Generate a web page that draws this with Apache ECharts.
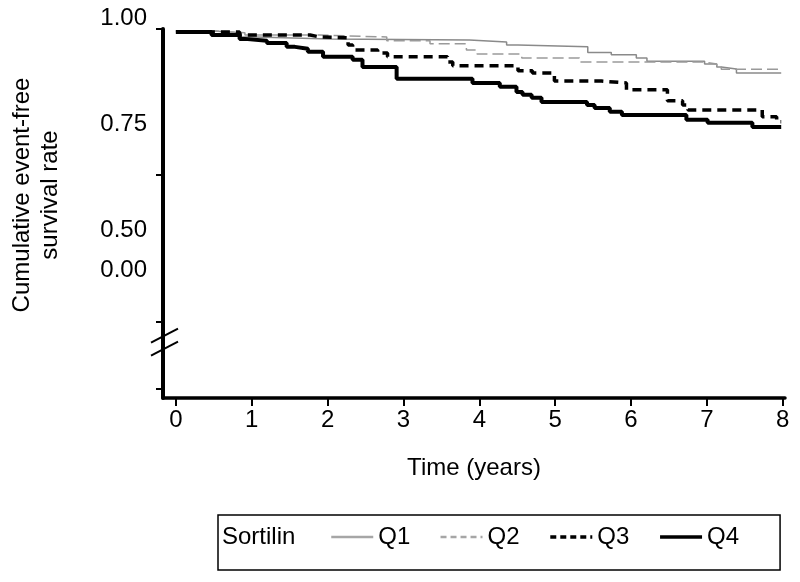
<!DOCTYPE html>
<html>
<head>
<meta charset="utf-8">
<script src="https://cdn.jsdelivr.net/npm/echarts@6/dist/echarts.min.js"></script>
<style>html,body{margin:0;padding:0;background:#fff}#c{width:800px;height:582px}</style>
</head>
<body>
<div id="c"></div>
<script>
// ---- data ----
const seriesNames = ['Q1', 'Q2', 'Q3', 'Q4'];
const q1Time = [0, 0.50, 0.84, 1.05, 2.03, 3.87, 4.36, 4.51, 5.43, 5.74, 6.07, 6.21, 6.97, 7.13, 7.19, 7.39, 7.98];
const q1Surv = [1.0, 0.995, 0.984, 0.979, 0.976, 0.971, 0.963, 0.958, 0.943, 0.937, 0.929, 0.920, 0.913, 0.905, 0.900, 0.889, 0.889];
const q2Time = [0, 0.50, 0.91, 1.90, 2.78, 3.35, 3.83, 3.97, 4.56, 5.32, 6.97, 7.13, 7.19, 7.98];
const q2Surv = [1.0, 0.995, 0.989, 0.984, 0.974, 0.966, 0.950, 0.939, 0.929, 0.918, 0.913, 0.905, 0.899, 0.899];
const q3Time = [0, 0.84, 1.77, 1.90, 2.27, 2.33, 2.66, 2.79, 3.58, 3.65, 4.51, 4.70, 4.99, 5.61, 5.94, 6.48, 6.68, 6.75, 7.73, 7.92, 7.98];
const q3Surv = [0.997, 0.989, 0.984, 0.982, 0.963, 0.950, 0.942, 0.932, 0.918, 0.908, 0.895, 0.889, 0.868, 0.863, 0.845, 0.816, 0.805, 0.792, 0.774, 0.761, 0.761];
const q4Time = [0, 0.47, 0.84, 0.91, 1.20, 1.46, 1.57, 1.74, 1.94, 2.33, 2.46, 2.91, 3.91, 4.27, 4.49, 4.57, 4.69, 4.82, 5.42, 5.52, 5.72, 5.88, 6.73, 7.01, 7.60, 7.98];
const q4Surv = [0.997, 0.989, 0.979, 0.974, 0.968, 0.958, 0.953, 0.945, 0.932, 0.924, 0.905, 0.874, 0.863, 0.853, 0.839, 0.832, 0.824, 0.813, 0.805, 0.797, 0.787, 0.779, 0.766, 0.758, 0.747, 0.747];

const xTickValues = [0, 1, 2, 3, 4, 5, 6, 7, 8];
const yTickValues = [1.005, 0.621, 0.234, 0.058];
const yLabelValues = [1.005, 0.755, 0.476, 0.371];
const yLabelTexts = ['1.00', '0.75', '0.50', '0.00'];
const yBreakValue = 0.18;
const xTitle = 'Time (years)';
const yTitle = 'Cumulative event-free\nsurvival rate';
const legendTitle = 'Sortilin';

// ---- chart ----
const FONT = '"Liberation Sans", Arial, sans-serif';
const zip = (t, s) => t.map((v, i) => [v, s[i]]);
const chart = echarts.init(document.getElementById('c'), null, {renderer: 'canvas'});

const styles = [
  {color: '#8a8a8a', width: 1.5, type: 'solid', legendColor: '#a6a6a6', legendWidth: 2.5, legendType: 'solid'},
  {color: '#9a9a9a', width: 1.5, type: [11, 5], legendColor: '#a6a6a6', legendWidth: 2.5, legendType: [6, 4]},
  {color: '#000000', width: 3.5, type: [9, 6], legendColor: '#000000', legendWidth: 3.5, legendType: [6, 4]},
  {color: '#000000', width: 4, type: 'solid', legendColor: '#000000', legendWidth: 3.5, legendType: 'solid'}
];
const dataSets = [zip(q1Time, q1Surv), zip(q2Time, q2Surv), zip(q3Time, q3Surv), zip(q4Time, q4Surv)];

chart.setOption({
  animation: false,
  backgroundColor: '#ffffff',
  textStyle: {fontFamily: FONT},
  grid: {left: 163, right: 15, top: 29, bottom: 184, containLabel: false},
  xAxis: {
    type: 'value', min: -0.17, max: 8.03,
    name: xTitle, nameLocation: 'middle', nameGap: 58,
    nameTextStyle: {fontSize: 24, color: '#000', fontFamily: FONT},
    axisLine: {show: true, onZero: false, lineStyle: {color: '#000', width: 3.5}},
    axisTick: {show: true, customValues: xTickValues, length: 8, lineStyle: {color: '#000', width: 2}},
    axisLabel: {customValues: xTickValues, fontSize: 24, color: '#000', margin: 10, fontFamily: FONT},
    splitLine: {show: false}
  },
  yAxis: {
    type: 'value', min: 0.034, max: 1.005,
    axisLine: {show: true, onZero: false, lineStyle: {color: '#000', width: 4}},
    axisTick: {show: true, customValues: yTickValues, length: 7, lineStyle: {color: '#000', width: 2}},
    axisLabel: {
      customValues: yLabelValues, fontSize: 24, color: '#000', margin: 16, fontFamily: FONT,
      formatter: function (v) {
        let idx = 0, best = 1e9;
        yLabelValues.forEach((lv, i) => { const d = Math.abs(lv - v); if (d < best) { best = d; idx = i; } });
        return idx === 0 ? '{top|' + yLabelTexts[idx] + '}' : yLabelTexts[idx];
      },
      rich: {top: {fontSize: 24, color: '#000', fontFamily: FONT, padding: [0, 0, 22, 0]}}
    },
    splitLine: {show: false}
  },
  legend: {
    left: 218, top: 515,
    data: seriesNames.map((n, i) => ({
      name: n,
      itemStyle: {color: 'rgba(0,0,0,0)', borderWidth: 0, opacity: 0},
      lineStyle: {color: styles[i].legendColor, width: styles[i].legendWidth, type: styles[i].legendType}
    })),
    itemWidth: 42, itemHeight: 14, itemGap: 29,
    padding: [10, 41, 21, 112],
    borderColor: '#000', borderWidth: 1.5, borderRadius: 0,
    textStyle: {fontSize: 24, color: '#000', fontFamily: FONT}
  },
  series: seriesNames.map((n, i) => ({
    name: n, type: 'line', step: 'end', symbol: 'none', showSymbol: false,
    data: dataSets[i], z: 2 + i,
    color: styles[i].color,
    lineStyle: {color: styles[i].color, width: styles[i].width, type: styles[i].type, cap: 'butt'}
  }))
});

// axis break and titles (decoration)
const ax = chart.convertToPixel({xAxisIndex: 0}, -0.17);
const by = chart.convertToPixel({yAxisIndex: 0}, yBreakValue);
chart.setOption({
  graphic: [
    {type: 'line', shape: {x1: ax - 12, y1: by, x2: ax + 15, y2: by - 14}, style: {stroke: '#000', lineWidth: 2}},
    {type: 'line', shape: {x1: ax - 12, y1: by + 13, x2: ax + 15, y2: by - 1}, style: {stroke: '#000', lineWidth: 2}},
    {type: 'text', x: 36, y: 195, rotation: Math.PI / 2,
      style: {text: yTitle, fontSize: 24, lineHeight: 28, fill: '#000', align: 'center', verticalAlign: 'middle', font: '24px ' + FONT}},
    {type: 'text', x: 222, y: 537,
      style: {text: legendTitle, fill: '#000', align: 'left', verticalAlign: 'middle', font: '24px ' + FONT}}
  ]
});
</script>
</body>
</html>
